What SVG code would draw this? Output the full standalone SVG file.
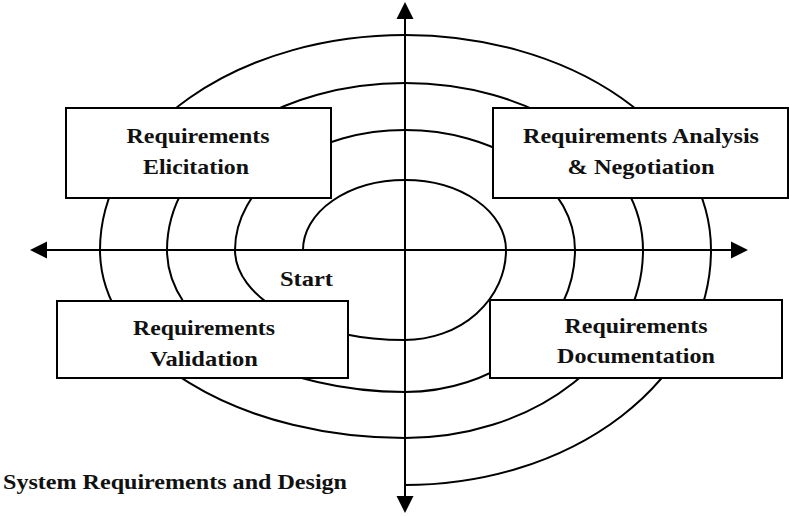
<svg xmlns="http://www.w3.org/2000/svg" width="789" height="516" viewBox="0 0 789 516">
<style>
.ln{fill:none;stroke:#000;stroke-width:2}
.box{fill:#fff;stroke:#000;stroke-width:2}
.t{font-family:"Liberation Serif","Times New Roman",serif;font-weight:bold;font-size:22px;fill:#111;text-anchor:middle}
.ah{fill:#000}
</style>
<rect width="789" height="516" fill="#fff"/>
<g id="connectors">
<path class="ln" d="M303 250 A102 70 0 0 1 405 180 A101 70 0 0 1 506 250 A101 90 0 0 1 405 340 A170 90 0 0 1 235 250 A170 120 0 0 1 405 130 A170 120 0 0 1 575 250 A170 142 0 0 1 405 392 A238 142 0 0 1 167 250 A238 167 0 0 1 405 83 A238 167 0 0 1 643 250 A238 188 0 0 1 405 438 A305 188 0 0 1 100 250 A305 215 0 0 1 405 35 A306 215 0 0 1 711 250 A306 235 0 0 1 405 485"/>
<line class="ln" x1="405" y1="16" x2="405" y2="499"/>
<line class="ln" x1="45" y1="250" x2="734" y2="250"/>
<polygon class="ah" points="405,2 396.5,19 413.5,19"/>
<polygon class="ah" points="405,513 396.5,496 413.5,496"/>
<polygon class="ah" points="30,250 47,241.5 47,258.5"/>
<polygon class="ah" points="748,250 731,241.5 731,258.5"/>
</g>
<g id="elicitation">
<rect class="box" x="66" y="108" width="265" height="90"/>
<text class="t" x="198" y="143" textLength="143" lengthAdjust="spacingAndGlyphs">Requirements</text>
<text class="t" x="196" y="174" textLength="106" lengthAdjust="spacingAndGlyphs">Elicitation</text>
</g>
<g id="analysis">
<rect class="box" x="493" y="108" width="295" height="90"/>
<text class="t" x="641" y="143" textLength="236" lengthAdjust="spacingAndGlyphs">Requirements Analysis</text>
<text class="t" x="641" y="174" textLength="147" lengthAdjust="spacingAndGlyphs">&amp; Negotiation</text>
</g>
<g id="validation">
<rect class="box" x="57" y="301" width="291" height="77"/>
<text class="t" x="204" y="335" textLength="142" lengthAdjust="spacingAndGlyphs">Requirements</text>
<text class="t" x="204" y="366" textLength="108" lengthAdjust="spacingAndGlyphs">Validation</text>
</g>
<g id="documentation">
<rect class="box" x="490" y="300" width="292" height="78"/>
<text class="t" x="636" y="333" textLength="143" lengthAdjust="spacingAndGlyphs">Requirements</text>
<text class="t" x="636" y="363" textLength="158" lengthAdjust="spacingAndGlyphs">Documentation</text>
</g>
<g id="start">
<text class="t" x="306.5" y="286" textLength="53" lengthAdjust="spacingAndGlyphs">Start</text>
</g>
<g id="system">
<text class="t" x="175" y="489" textLength="344" lengthAdjust="spacingAndGlyphs">System Requirements and Design</text>
</g>
</svg>
